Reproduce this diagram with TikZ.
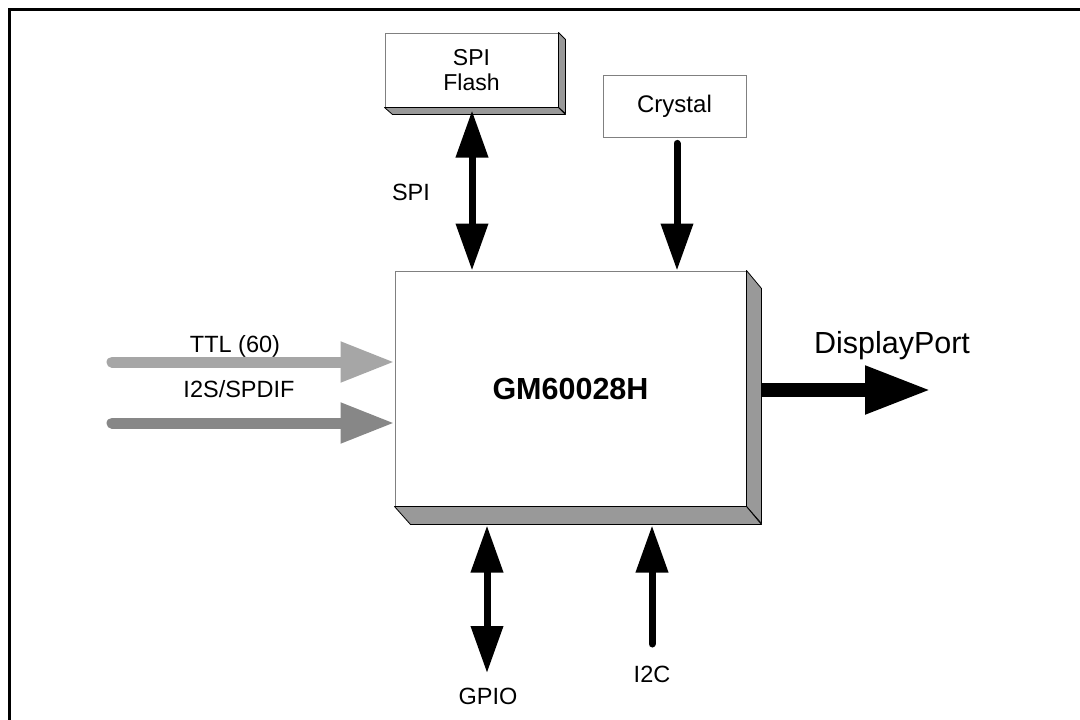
\documentclass[tikz,border=0pt]{standalone}
\usepackage{fontspec}
\setmainfont{Liberation Sans}
\usetikzlibrary{arrows.meta}
\definecolor{shade}{HTML}{999999}
\definecolor{edge}{HTML}{808080}
\definecolor{ttlgray}{HTML}{A6A6A6}
\definecolor{i2sgray}{HTML}{878787}
\begin{document}
\begin{tikzpicture}[x=1pt,y=-1pt,
  lab/.style={font=\fontsize{23.5}{26}\selectfont, inner sep=0pt, anchor=base},
  face/.style={draw=edge, line width=1pt, fill=white, inner sep=0pt},
  shadowpoly/.style={fill=shade, draw=black, line width=0.8pt, line join=round},
  bus/.style={line width=7pt, draw=black},
  uni/.style={bus, line cap=round, -{Triangle[length=47pt,width=31pt]}},
  bi/.style={bus, {Triangle[length=47pt,width=31pt]}-{Triangle[length=47pt,width=31pt]}},
  graybus/.style={line width=11pt, line cap=round, -{Triangle[length=54pt,width=38pt]}}
  ]
\useasboundingbox (0,0) rectangle (1080,720);
\fill[white] (0,0) rectangle (1080,720);

% frame
\draw[line width=3pt] (9.5,720) -- (9.5,9.5) -- (1080,9.5);

% main chip
\node[face, minimum width=351pt, minimum height=235pt,
      font=\bfseries\fontsize{30.5}{33}\selectfont] (chip) at (570.5,388.5) {GM60028H};
\draw[shadowpoly] (chip.north east) -- ++(15,18) -- ++(0,235) -- (chip.south east) -- cycle;
\draw[shadowpoly] (chip.south west) -- (chip.south east) -- ++(15,18) -- ++(-351,0) -- cycle;

% SPI flash
\node[face, minimum width=173pt, minimum height=74pt, align=center,
      font=\fontsize{23}{24.5}\selectfont] (flash) at (471.5,70) {SPI\\Flash};
\draw[shadowpoly] (flash.north east) -- ++(7,7) -- ++(0,74) -- (flash.south east) -- cycle;
\draw[shadowpoly] (flash.south west) -- (flash.south east) -- ++(7,7) -- ++(-173,0) -- cycle;

% crystal
\node[face, line width=0.8pt, minimum width=143pt, minimum height=62pt,
      font=\fontsize{24}{26}\selectfont] (crystal) at (674.5,106) {Crystal};

% connectors
\coordinate (spix) at (472,0);
\draw[bi] ([yshift=-3pt]flash.south -| spix) -- (chip.north -| spix);

\coordinate (xtal) at (677,0);
\draw[uni] ([yshift=-6pt]crystal.south -| xtal) -- (chip.north -| xtal);

\coordinate (ttlS) at (112,362);
\draw[graybus, draw=ttlgray] (ttlS) -- (chip.west |- ttlS);
\coordinate (i2sS) at (112,423);
\draw[graybus, draw=i2sgray] (i2sS) -- (chip.west |- i2sS);

\coordinate (dpE) at (931,390);
\draw[line width=14pt, -{Triangle[length=66pt,width=45pt]}] ([xshift=15pt]chip.east |- dpE) -- (dpE);

\coordinate (gpioE) at (487,673);
\draw[bi] ([yshift=-19pt]chip.south -| gpioE) -- (gpioE);

\coordinate (i2cS) at (652,644);
\draw[uni] (i2cS) -- ([yshift=-19pt]chip.south -| i2cS);

% labels
\node[lab] (ttlL) at (235,352) {TTL (60)};
\node[lab] (i2sL) at (239,397) {I2S/SPDIF};
\node[lab, font=\fontsize{30.5}{33}\selectfont] (dpL) at (892,353) {DisplayPort};
\node[lab] (spiL) at (411,200) {SPI};
\node[lab] (gpioL) at (488,704) {GPIO};
\node[lab] (i2cL) at (652,682) {I2C};
\end{tikzpicture}
\end{document}
